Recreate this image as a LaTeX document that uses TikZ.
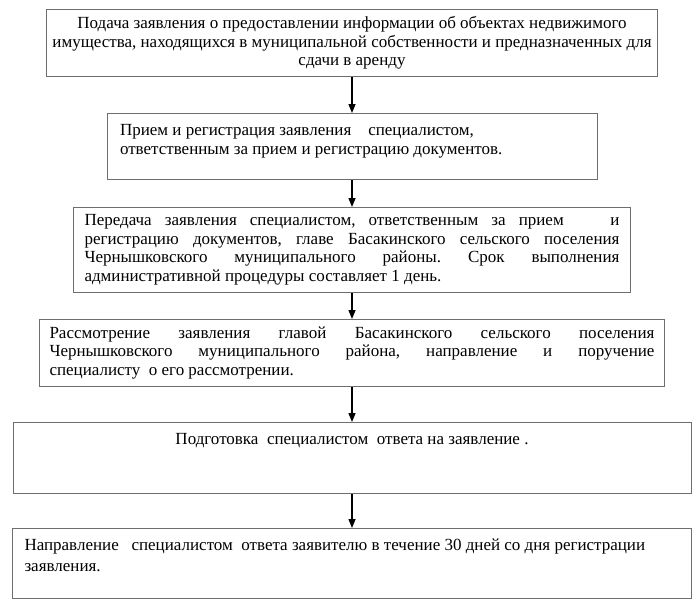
\documentclass[tikz,border=0pt]{standalone}
\usepackage{fontspec}
\setmainfont{Liberation Serif}
\usetikzlibrary{positioning,arrows.meta}
\definecolor{framegray}{HTML}{6E6E6E}
\frenchspacing

\begin{document}
\begin{tikzpicture}[
  x=1pt, y=1pt,
  stage/.style={draw=framegray, line width=1pt, inner ysep=0pt, inner xsep=11pt,
    font=\fontsize{17}{18.5}\selectfont},
  flow/.style={-{Triangle[length=9pt,width=7pt]}, line width=1.4pt}
]
\useasboundingbox (0,0) rectangle (700,-602);

\node[stage, inner xsep=2pt, anchor=north] (filing) at (352,-9)
  {\parbox[c][67pt][c]{607pt}{\centering
   Подача заявления о предоставлении информации об объектах недвижимого\\
   имущества, находящихся в муниципальной собственности и предназначенных для\\
   сдачи в аренду}};
\node[stage, inner xsep=13pt, below=36pt of filing] (intake)
  {\parbox[c][66pt][t]{464pt}{\raggedright
   \rule{0pt}{22pt}Прием и регистрация заявления\ \ \ \ специалистом,\\
   ответственным за прием и регистрацию документов.}};
\node[stage, below=27pt of intake] (transfer)
  {\parbox[c][85pt][c]{535pt}{\raggedright
   \makebox[\linewidth][s]{Передача заявления специалистом, ответственным за прием \hspace{1.2em} и}\\
   \makebox[\linewidth][s]{регистрацию документов, главе Басакинского сельского поселения}\\
   \makebox[\linewidth][s]{Чернышковского муниципального районы. Срок выполнения}\\
   административной процедуры составляет 1 день.}};
\node[stage, inner xsep=10pt, below=26pt of transfer] (review)
  {\parbox[c][67pt][c]{605pt}{\raggedright
   \makebox[\linewidth][s]{Рассмотрение заявления главой Басакинского сельского поселения}\\
   \makebox[\linewidth][s]{Чернышковского муниципального района, направление и поручение}\\
   специалисту\ \ о его рассмотрении.}};
\node[stage, below=35pt of review] (answer)
  {\parbox[c][71pt][t]{656pt}{\centering
   \rule{0pt}{22pt}Подготовка\ \ специалистом\ \ ответа на заявление .}};
\node[stage, inner xsep=12pt, below=34pt of answer,
  font=\fontsize{17}{20.5}\selectfont] (reply)
  {\parbox[c][70pt][t]{655pt}{\raggedright
   \rule{0pt}{22pt}Направление\ \ \ специалистом\ \ ответа заявителю в течение 30 дней со дня регистрации\\
   заявления.}};

\draw[flow] (filing) -- (intake);
\draw[flow] (intake) -- (transfer);
\draw[flow] (transfer) -- (review);
\draw[flow] (review) -- (answer);
\draw[flow] (answer) -- (reply);
\end{tikzpicture}
\end{document}
